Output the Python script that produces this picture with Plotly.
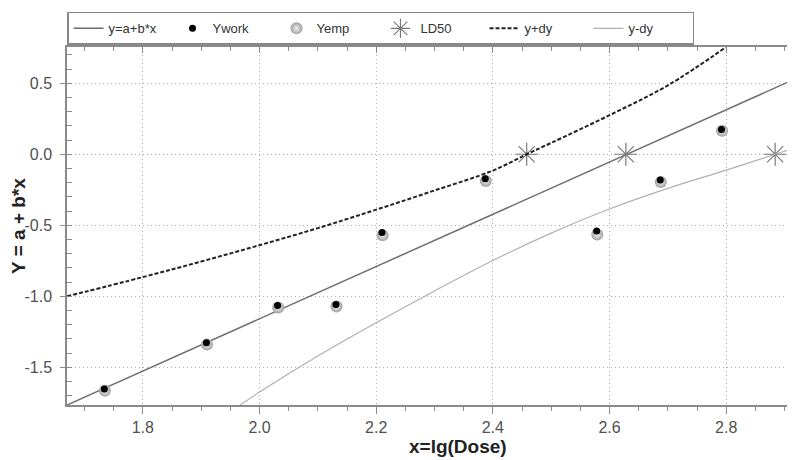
import plotly.graph_objects as go

# ---- data ----
fit_x = [1.670, 2.918]
fit_y = [-1.765, 0.530]

work_x = [1.734, 1.909, 2.031, 2.131, 2.210, 2.387, 2.578, 2.687, 2.792]
work_y = [-1.652, -1.327, -1.064, -1.058, -0.551, -0.173, -0.541, -0.182, 0.175]

emp_x = [1.735, 1.910, 2.032, 2.132, 2.211, 2.388, 2.579, 2.688, 2.793]
emp_y = [-1.665, -1.340, -1.078, -1.072, -0.570, -0.188, -0.565, -0.195, 0.165]

ld50_x = [2.458, 2.628, 2.884]
ld50_y = [0.0, 0.0, 0.0]

up_x = [1.670, 1.800, 1.900, 2.000, 2.100, 2.200, 2.300, 2.400, 2.458, 2.500, 2.600, 2.700, 2.800]
up_y = [-1.000, -0.865, -0.755, -0.640, -0.520, -0.390, -0.255, -0.115, 0.000, 0.080, 0.275, 0.485, 0.755]

lo_x = [1.967, 2.000, 2.100, 2.200, 2.300, 2.400, 2.500, 2.600, 2.700, 2.800, 2.884, 2.918]
lo_y = [-1.765, -1.674, -1.420, -1.186, -0.962, -0.748, -0.555, -0.385, -0.240, -0.112, 0.000, 0.045]

x_ticks = [1.8, 2.0, 2.2, 2.4, 2.6, 2.8]
x_ticktext = ["1.8", "2.0", "2.2", "2.4", "2.6", "2.8"]
y_ticks = [0.5, 0.0, -0.5, -1.0, -1.5]
y_ticktext = ["0.5", "0.0", "-0.5", "-1.0", "-1.5"]
x_title = "x=lg(Dose)"
y_title = "Y = a + b*x"

FONT = "Liberation Sans, Arial, sans-serif"
AX = "#8a8a8a"
TICKFONT = dict(family=FONT, size=16, color="#505050")
TITLEFONT = dict(family=FONT, size=19, color="#222222")

fig = go.Figure()
fig.add_trace(go.Scatter(x=fit_x, y=fit_y, mode="lines", name="y=a+b*x", legendrank=1,
                         line=dict(color="#6e6e6e", width=1.5)))
fig.add_trace(go.Scatter(x=emp_x, y=emp_y, mode="markers", name="Yemp", legendrank=3,
                         marker=dict(size=12, color="#a0a0a0",
                                     gradient=dict(type="radial", color="#f2f2f2"),
                                     line=dict(width=0))))
fig.add_trace(go.Scatter(x=work_x, y=work_y, mode="markers", name="Ywork", legendrank=2,
                         marker=dict(size=7, color="black", line=dict(width=0))))
fig.add_trace(go.Scatter(x=ld50_x, y=ld50_y, mode="markers", name="LD50", legendrank=4,
                         marker=dict(symbol="asterisk-open", size=19, color="#7a7a7a",
                                     line=dict(color="#7a7a7a", width=1.2))))
fig.add_trace(go.Scatter(x=up_x, y=up_y, mode="lines", name="y+dy", legendrank=5,
                         line=dict(color="#222222", width=2, dash="4px,2px", shape="spline")))
fig.add_trace(go.Scatter(x=lo_x, y=lo_y, mode="lines", name="y-dy", legendrank=6,
                         line=dict(color="#b0b0b0", width=1.2, shape="spline")))
fig.add_trace(go.Scatter(x=fit_x, y=fit_y, xaxis="x2", mode="lines", showlegend=False,
                         hoverinfo="skip", line=dict(width=0), opacity=0))

# page body adds an 8px margin, so the figure is drawn 8px smaller with shifted margins
fig.update_layout(
    width=787, height=452,
    margin=dict(l=59, r=0, t=39, b=55, autoexpand=False),
    plot_bgcolor="white", paper_bgcolor="white",
    font=dict(family=FONT, size=13, color="#444444"),
    showlegend=True,
    legend=dict(orientation="h", x=0, xanchor="left", y=1.098, yanchor="top",
                bordercolor="#888888", borderwidth=1.5, bgcolor="white",
                font=dict(family=FONT, size=13, color="#333333"),
                entrywidth=59, entrywidthmode="pixels", itemclick=False),
    xaxis=dict(range=[1.670, 2.918], tickvals=x_ticks, ticktext=x_ticktext, automargin=False,
               showgrid=True, gridcolor="#b0b0b0", griddash="1px,3px", gridwidth=1,
               showline=True, linecolor=AX, linewidth=1.5,
               ticks="outside", ticklen=7, tickcolor=AX, tickwidth=1.2,
               minor=dict(dtick=0.05, tick0=1.8, ticks="outside", ticklen=4,
                          tickcolor=AX, showgrid=False),
               zeroline=False, tickfont=TICKFONT),
    yaxis=dict(range=[-1.765, 0.755], tickvals=y_ticks, ticktext=y_ticktext, automargin=False,
               showgrid=True, gridcolor="#b0b0b0", griddash="1px,3px", gridwidth=1,
               showline=True, linecolor=AX, linewidth=1.5,
               ticks="outside", ticklen=5, tickcolor=AX, tickwidth=1.2,
               ticklabelstandoff=5,
               minor=dict(dtick=0.1, tick0=0, ticks="inside", ticklen=5,
                          tickcolor=AX, showgrid=False),
               zeroline=False,
               title=dict(text="<b>" + y_title + "</b>", font=TITLEFONT, standoff=2),
               tickfont=TICKFONT),
    xaxis2=dict(overlaying="x", side="top", matches="x", showgrid=False, automargin=False,
                showline=True, linecolor=AX, linewidth=1.5,
                ticks="inside", ticklen=6, tickcolor=AX, tickvals=x_ticks,
                showticklabels=False,
                minor=dict(dtick=0.05, tick0=1.8, ticks="inside", ticklen=4,
                           tickcolor=AX, showgrid=False), zeroline=False),
)
fig.add_annotation(text="<b>" + x_title + "</b>", xref="paper", yref="paper",
                   x=0.537, y=-0.117, xanchor="center", yanchor="middle",
                   showarrow=False, font=TITLEFONT)

fig.write_html("out.html")
